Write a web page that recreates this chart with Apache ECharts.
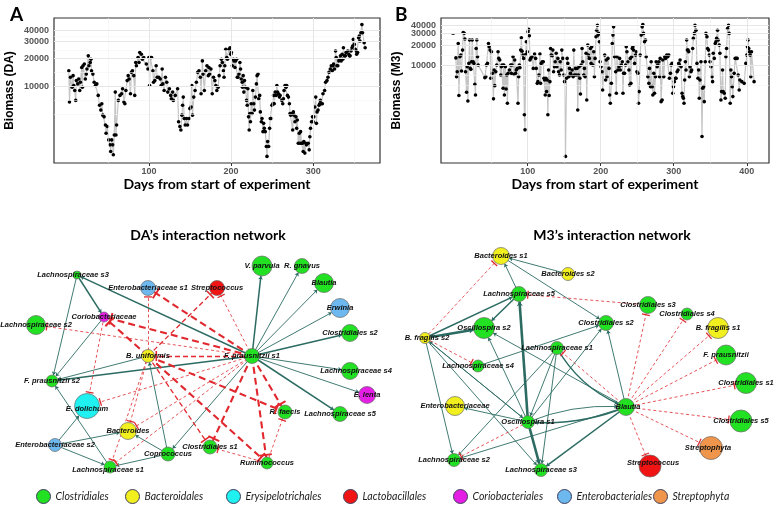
<!DOCTYPE html>
<html><head><meta charset="utf-8">
<script src="https://cdn.jsdelivr.net/npm/echarts@6/dist/echarts.min.js"></script>
<style>html,body{margin:0;padding:0;background:#fff}#c{width:778px;height:513px}</style>
</head><body><div id="c"></div>
<script>
// ---------------- DATA ----------------
// Panel A: [day, biomass] for DA
const daSamples = [[2.4,14650],[3.2,6780],[4.4,12470],[6.4,9770],[7.6,12990],[8.4,10180],[9.6,9000],[10.8,7050],[11.6,11500],[13.3,10600],[14.5,11980],[15.7,9000],[16.5,11040],[18.1,15900],[18.9,9770],[19.7,16580],[21.3,17300],[22.5,11980],[23.7,13500],[24.5,15280],[26.1,21170],[26.9,16580],[28.5,17980],[29.3,19500],[30.1,14650],[31.7,13500],[33.3,11040],[34.9,10180],[36.5,10600],[38.2,7975],[39.8,6250],[41.4,5550],[42.6,6500],[43.8,4900],[45.4,4700],[47,3840],[47.8,3130],[49.4,3700],[51,2660],[52.6,2354],[53.4,2000],[54.6,2660],[55.8,2354],[56.6,1844],[57.8,3006],[59,8650],[59.8,3006],[60.6,3836],[62.7,7050],[64.7,7975],[66.7,8300],[67.9,9385],[69.5,6780],[70.7,6500],[71.9,9000],[73.5,11500],[74.7,12990],[75.9,11980],[77.5,8300],[78.7,14090],[79.9,14650],[81.5,12990],[82.7,7975],[83.9,17980],[84.7,16580],[86.7,20300],[87.9,17980],[88.8,22960],[90.8,22000],[92,19500],[93.6,20300],[96.8,17300],[98.8,15280],[100,20300],[100.8,10180],[101.6,20300],[103.2,20300],[104.8,14650],[105.6,11040],[107.2,11500],[108.8,16580],[110,12470],[112,12470],[113.7,11980],[114.9,10180],[116.1,15280],[116.9,10600],[118.5,9000],[120.1,12470],[121.7,11040],[122.9,8650],[124.9,9385],[126.5,7975],[127.3,7355],[128.9,8650],[129.7,7050],[132.1,7975],[134.9,9385],[136.1,4160],[137.7,3700],[138.9,3400],[140.2,4900],[141,6250],[141.8,7650],[143,4515],[144.2,3836],[145.8,4515],[147,3836],[149,4515],[149.8,5763],[151.4,6000],[152.2,10180],[153,4900],[154.6,7650],[156.2,9000],[157.8,11040],[159.4,14090],[161,14650],[162.6,12470],[163.5,8300],[165.1,18700],[165.9,13500],[167.5,9000],[169.1,14650],[170.7,16580],[172.3,12990],[173.1,15900],[173.9,13500],[175.5,15280],[177.1,8300],[178.7,12470],[180.3,11500],
[181.5,10180],[182.7,9000],[184.3,9770],[185.5,12990],[186.7,16580],[188.3,19500],[189.5,17980],[190.7,14650],[191.5,12470],[192.4,16580],[193.6,24890],[194.8,20300],[195.6,19500],[197.6,24890],[198.8,25900],[199.6,22000],[200.4,22960],[201.6,16580],[202.8,19500],[203.6,18700],[204.8,15900],[205.6,18700],[206.8,19500],[207.6,12470],[208.4,12470],[209.6,13500],[210.8,17980],[211.6,15280],[212.4,11980],[213.6,11040],[214,9770],[214.8,12990],[215.6,8650],[216.4,11500],[217.7,9770],[218.9,7050],[219.7,6250],[220.5,9385],[221.3,4700],[222.1,3400],[222.9,5100],[223.7,4160],[224.5,6500],[225.7,5100],[226.5,9000],[227.7,6500],[228.5,5550],[229.7,7650],[230.9,10600],[231.7,12990],[232.9,13500],[233.7,7350],[234.9,7975],[235.7,5312],[236.9,4160],[237.7,4515],[238.9,3261],[239.7,4000],[240.5,3536],[241.7,3261],[243,2260],[243.8,1770],[244.6,2554],[245.8,2260],[247,3536],[247.8,4515],[249,4515],[249.8,6250],[251,6500],[251.8,7975],[252.6,6500],[253.8,8650],[255,7975],[255.8,10180],[256.6,8650],[257.8,8300],[259,7650],[259.8,7975],[261.8,7050],[263,6500],[263.8,7355],[264.6,9000],[265.8,10180],[267,9770],[267.8,10180],[268.7,7975],[269.9,7650],[271.1,6500],[271.9,5100],[272.7,4900],[273.9,5100],[275.1,3400],[275.9,5312],[276.7,4900],[277.9,4160],[279.1,4700],[279.9,3536],[280.7,4340],[281.9,2450],[283.1,3130],[283.9,2450],[284.7,3261],[285.9,2450],[287.1,2450],[287.9,2000],[288.7,2554],[289.9,1920],[291.1,2450],[291.9,2354],[294,2450],[295.2,2080],[296,2880],[296.8,3536],[298,4160],[299.2,4700],[300,4160],[300.8,4700],[302,6000],[303.2,7650],[304,4000],[304.8,5312],[306,5550],[307.2,6250],[308,6500],[308.8,7050],[310,6500],[311.2,6500],[312,8300],[314,9000],[315.2,11040],[316.9,11500],[318.1,12470],[319.3,14090],[320.9,15280],[322.1,16580],[323.3,14650],[324.1,16580],[324.9,17300],[326.1,15280],[327.3,23900],[328.1,20300],[328.9,16580],[330.1,16580],[331.3,18700],[332.1,19500],[333.3,21170],[334.1,18700],[335.3,22000],[336.1,19500],[336.9,25900],[338.1,21170],[339.3,21170],[340.1,22960],[342.2,23900],[343.4,22000],[344.2,21170],[345,21170],[346.2,23900],[347.4,25900],[348.2,27020],[349,31770],[350.2,28100],[351.4,24890],[352.2,23900],[353,22000],[354.2,22960],[355.4,33000],[356.2,34440],[357,30500],[358.2,37410],[359.4,45800],[360.2,37410],[362.2,29310],[363.4,25900]];

// Panel B: [day, biomass] for M3
const m3Samples = [[1.8,12970],[2.7,6750],[3.6,8020],[5,21400],[5.9,3500],[7.3,13500],[8.6,14290],[9.5,8200],[10.9,17000],[11.8,31400],[13.2,30500],[14.1,25000],[15,8020],[16.4,3920],[17.3,9550],[18.2,2900],[19.5,10700],[20.5,24100],[21.4,9000],[22.3,8700],[23.2,11340],[24.1,24100],[25.5,11340],[26.4,10700],[27.7,5170],[28.6,3570],[29.5,18010],[30.4,24100],[31.4,13500],[32.3,10100],[41.4,6520],[42.7,6750],[43.6,10100],[45,10700],[46.4,21400],[47.3,19100],[48.6,17000],[49.5,6370],[50.5,16050],[51.8,7570],[53.2,3120],[54.1,8500],[55,4940],[56.4,8020],[57.7,10100],[59.5,16050],[60.5,12740],[61.8,12040],[63.2,7140],[64.1,9550],[65,10100],[66.4,4500],[67.3,10100],[68.2,3570],[69.5,9550],[70.5,4400],[71.4,7140],[72.3,2670],[73.2,7570],[75,8500],[76.8,10100],[77.7,7570],[78.6,10100],[80,13500],[81.4,7300],[82.3,12040],[83.6,7570],[84.5,8500],[85.9,9000],[86.8,2670],[87.7,6750],[88.6,10100],[89.5,9200],[90.5,17000],[91.4,26100],[92.3,16400],[93.6,14290],[94.5,12740],[95.5,1790],[96.4,1060],[97.3,14600],[98.2,22700],[99.5,16050],[100.5,32140],[101.4,35200],[102.3,28000],[103.2,12040],[104.1,12740],[105.9,13500],[107.7,9000],[109.5,14800],[110.9,12740],[111.8,9000],[113.2,5350],[114.1,5670],[115.5,7140],[116.8,14800],[117.7,5350],[118.6,10700],[120,11340],[121.4,11340],[122.3,6370],[123.2,6000],[124.1,3570],[125,6370],[125.9,4010],[126.8,6000],[127.7,1790],[128.6,8500],[129.5,3500],[130.5,5670],[131.4,18010],[132.3,14290],[133.6,14000],[134.5,17000],[135.5,8020],[136.8,9550],[137.7,11340],[139.1,15200],[140,9550],[141.4,12740],[142.3,8020],[143.6,7140],[144.5,11340],[145.9,8500],[146.8,17000],[148.2,12740],[149.5,7140],[150.5,5670],[151.8,421],[153.2,6370],[154.1,12740],[155,10700],[156.4,6750],[157.3,9000],[158.6,7570],[159.5,7140],[160.9,8500],[162.3,6750],[163.2,17000],[164.1,7140],[165.5,9000],[166.4,7140],[167.7,9000],[168.6,2120],[169.5,7140],[170.5,9550],[171.4,6370],[172.3,3700],[173.2,10100],[174.5,18010],[175.5,11340],[176.8,7140],[177.7,9000],[178.6,6750],[180,15200],[180.9,3000],[182.3,20220],[183.2,14290],[184.5,12740],[185.9,18010],[186.8,10700],[187.7,19100],[189.1,10100],[190.5,16050],[191.4,6750],[192.3,12740],[193.6,27000],[194.5,34000],[195.5,40450],[196.4,28650],[197.3,30400],[198.2,22700],[199.1,11340],[200.5,9550],[201.8,8020],[202.7,4250],
[205.5,14290],[206.8,6000],[207.7,12040],[208.7,6750],[210,12740],[211.4,9000],[212.3,3570],[213.2,2670],[214.6,5350],[215.9,21400],[216.8,28650],[217.7,38200],[219.1,13500],[220.5,8020],[221.4,3780],[222.3,13500],[223.7,8500],[225,9550],[225.9,12740],[226.8,8500],[228.2,10100],[229.6,11340],[230.5,3780],[231.4,7570],[232.7,7570],[234.1,10100],[235,19100],[235.9,16050],[237.3,11340],[238.7,8500],[239.6,5050],[240.5,12740],[241.4,5350],[242.3,13500],[243.2,18010],[244.1,19100],[245,17000],[246.4,10700],[247.7,14290],[248.7,16050],[249.6,8020],[250.9,7570],[251.8,2670],[252.7,4010],[254.1,14290],[255.5,28650],[256.8,38200],[257.7,41300],[258.7,30400],[260,22700],[261.4,24100],[262.3,13500],[264.6,6750],[265.9,5350],[266.8,9000],[268.2,4770],[269.1,11340],[270.5,4770],[271.4,3570],[272.7,7570],[273.7,3780],[275,6750],[275.9,11340],[277.3,9550],[278.2,10100],[279.6,11340],[280.5,6750],[281.4,12740],[282.7,2830],[284.1,3000],[285,12040],[286.4,6750],[287.7,13500],[288.7,12740],[289.6,13500],[290.5,14290],[291.8,13500],[293.2,14290],[294.1,6370],[295.5,7570],[296.4,10100],[297.7,10700],[298.7,3780],[299.6,4770],[300.9,5670],[302.3,6370],[303.2,6370],[304.6,8020],[305.9,8500],[306.8,10700],[307.7,10100],[308.7,12040],[310,9550],[311.4,3780],[312.3,3370],[313.2,3180],[314.1,2670],[315,6000],[315.9,11340],[316.8,8500],[317.7,24100],[318.7,17000],[319.6,17000],[320.5,16050],[321.4,6750],[322.3,9550],[323.7,8020],[324.6,8500],[325.9,18010],[326.8,25540],[328.2,30400],[329.1,40450],[330.5,34000],[331.8,10700],[333.2,6370],[334.1,8500],[335,3180],[335.9,6000],[337.3,11340],[338.7,840],[339.6,4500],[340.9,4770],[341.8,2830],[343.2,11340],[344.1,30400],[345.5,27000],[346.4,18010],[347.7,17000],[348.7,14290],[349.6,11340],[351,9550],[352.3,6750],[353.2,5670],[354.1,15200],[355.5,12740],[356.8,21400],[357.7,22700],[358.7,25540],[360,34000],[360.9,24100],[362.3,20220],[363.2,15200],[364.6,3000],[365.5,4010],[366.8,8500],[367.7,4010],[369.1,3780],[370.5,3180],[371.4,13500],[372.3,18010],[373.7,36050],[375,40450],[375.9,30400],[377.3,2670],[378.2,8500],[379.1,6750],[380,4770],[380.9,3370],[382.7,7570],[384.1,12740],[385.5,12740],[386.8,12740],[388.2,7140],[389.6,4250],[390.5,6000],[393.2,5670],[396.4,5350],[398.7,10700],[400,14290],[400.9,19100],[401.8,24100],[402.7,18010],[403.7,16050],[404.6,14290],[405.5,6750],[406.4,16050],[410,5670]];

// Tick labels
const xTicksA = [100, 200, 300];
const xTicksB = [100, 200, 300, 400];
const xMinorA = [50, 150, 250, 350];
const xMinorB = [50, 150, 250, 350];
const yTicks = [10000, 20000, 30000, 40000];
const yMinor = [5000, 7071, 14142, 24495, 34641];

// Taxonomic orders (legend / node categories)
const orders = ['Clostridiales', 'Bacteroidales', 'Erysipelotrichales', 'Lactobacillales', 'Coriobacteriales', 'Enterobacteriales', 'Streptophyta'];

// DA network nodes
const daNodeNames = ['Lachnospiraceae s3','Enterobacteriaceae s1','Streptococcus','V. parvula','R. gnavus','Blautia','Erwinia','Clostridiales s2','Lachnospiraceae s4','E. lenta','Lachnospiraceae s5','R. faecis','Ruminococcus','Clostridiales s1','Coprococcus','Bacteroides','Enterobacteriaceae s2','Lachnospiraceae s1','E. dolichum','F. prausnitzii s2','Lachnospiraceae s2','Coriobacteriaceae','B. uniformis','F. prausnitzii s1'];
const daNodeOrders = ['Clostridiales','Enterobacteriales','Lactobacillales','Clostridiales','Clostridiales','Clostridiales','Enterobacteriales','Clostridiales','Clostridiales','Coriobacteriales','Clostridiales','Clostridiales','Clostridiales','Clostridiales','Clostridiales','Bacteroidales','Enterobacteriales','Clostridiales','Erysipelotrichales','Clostridiales','Clostridiales','Coriobacteriales','Bacteroidales','Clostridiales'];
// [source, target, sign (+1 promotes / -1 inhibits), strength 1..3]
const daEdges = [
  ['F. prausnitzii s1','Lachnospiraceae s3',1,2],['F. prausnitzii s1','V. parvula',1,2],['F. prausnitzii s1','R. gnavus',1,1],
  ['F. prausnitzii s1','Blautia',1,1],['F. prausnitzii s1','Erwinia',1,1],['F. prausnitzii s1','Clostridiales s2',1,2],
  ['F. prausnitzii s1','Lachnospiraceae s4',1,1],['F. prausnitzii s1','E. lenta',1,1],['F. prausnitzii s1','Lachnospiraceae s5',1,2],
  ['F. prausnitzii s1','F. prausnitzii s2',1,2],['F. prausnitzii s1','Coprococcus',1,1],['B. uniformis','F. prausnitzii s2',1,1],
  ['Lachnospiraceae s3','Coriobacteriaceae',1,2],['Lachnospiraceae s3','F. prausnitzii s2',1,1],['Coriobacteriaceae','F. prausnitzii s2',1,1],
  ['Enterobacteriaceae s2','E. dolichum',1,1],['Enterobacteriaceae s2','Bacteroides',1,1],['Enterobacteriaceae s2','Lachnospiraceae s1',1,1],
  ['Lachnospiraceae s1','F. prausnitzii s2',1,1],['Coprococcus','Bacteroides',1,1],['Coprococcus','B. uniformis',1,1],['Coprococcus','Lachnospiraceae s1',1,1],
  ['F. prausnitzii s1','Enterobacteriaceae s1',-1,3],['F. prausnitzii s1','Coriobacteriaceae',-1,3],['F. prausnitzii s1','R. faecis',-1,3],
  ['F. prausnitzii s1','Ruminococcus',-1,3],['F. prausnitzii s1','Clostridiales s1',-1,3],['B. uniformis','Coriobacteriaceae',-1,3],
  ['B. uniformis','R. faecis',-1,3],['B. uniformis','Ruminococcus',-1,3],['B. uniformis','Clostridiales s1',-1,2],
  ['F. prausnitzii s1','B. uniformis',-1,2],['B. uniformis','Streptococcus',-1,2],['F. prausnitzii s1','Streptococcus',-1,1],
  ['F. prausnitzii s1','Lachnospiraceae s2',-1,1],['F. prausnitzii s1','E. dolichum',-1,1],['F. prausnitzii s1','Bacteroides',-1,1],
  ['F. prausnitzii s1','Lachnospiraceae s1',-1,1],['B. uniformis','Enterobacteriaceae s1',-1,1],['B. uniformis','Bacteroides',-1,1],
  ['Coriobacteriaceae','E. dolichum',-1,1],['Ruminococcus','R. faecis',-1,1],['Ruminococcus','Clostridiales s1',-1,1],['B. uniformis','Lachnospiraceae s1',-1,1]
];

// M3 network nodes
const m3NodeNames = ['Bacteroides s1','Bacteroides s2','Lachnospiraceae s5','Clostridiales s3','Clostridiales s4','B. fragilis s1','Clostridiales s2','Oscillospira s2','B. fragilis s2','Lachnospiraceae s1','Lachnospiraceae s4','F. prausnitzii','Clostridiales s1','Enterobacteriaceae','Blautia','Clostridiales s5','Oscillospira s1','Streptophyta','Lachnospiraceae s2','Lachnospiraceae s3','Streptococcus'];
const m3NodeOrders = ['Bacteroidales','Bacteroidales','Clostridiales','Clostridiales','Clostridiales','Bacteroidales','Clostridiales','Clostridiales','Bacteroidales','Clostridiales','Clostridiales','Clostridiales','Clostridiales','Bacteroidales','Clostridiales','Clostridiales','Clostridiales','Streptophyta','Clostridiales','Clostridiales','Lactobacillales'];
const m3Edges = [
  ['Bacteroides s2','Bacteroides s1',1,1],['Bacteroides s1','Clostridiales s2',1,1],['Lachnospiraceae s5','Bacteroides s1',1,1],
  ['Lachnospiraceae s5','Oscillospira s2',1,2],['B. fragilis s2','Lachnospiraceae s5',1,2],['B. fragilis s2','Oscillospira s2',1,3],
  ['Oscillospira s1','Lachnospiraceae s5',1,3],['Oscillospira s1','Lachnospiraceae s3',1,3],['Oscillospira s1','Oscillospira s2',1,1],
  ['Blautia','Oscillospira s2',1,1],['Lachnospiraceae s4','Clostridiales s2',1,1],['Lachnospiraceae s1','Oscillospira s1',1,1],
  ['Lachnospiraceae s1','Lachnospiraceae s3',1,1],['Lachnospiraceae s1','Lachnospiraceae s2',1,1],['Lachnospiraceae s1','Blautia',1,2],
  ['Oscillospira s1','Clostridiales s2',1,1],['Blautia','Clostridiales s2',1,1],['Blautia','Oscillospira s1',1,2],
  ['Oscillospira s1','Blautia',1,1],['Blautia','Lachnospiraceae s3',1,2],['Blautia','Lachnospiraceae s2',1,1],
  ['Oscillospira s1','Enterobacteriaceae',1,1],['B. fragilis s2','Lachnospiraceae s2',1,1],['B. fragilis s2','Oscillospira s1',1,1],
  ['B. fragilis s2','Lachnospiraceae s3',1,1],['Oscillospira s1','B. fragilis s2',1,1],
  ['Blautia','Clostridiales s3',-1,1],['Blautia','Clostridiales s4',-1,1],['Blautia','B. fragilis s1',-1,1],['Blautia','F. prausnitzii',-1,1],
  ['Blautia','Clostridiales s1',-1,1],['Blautia','Clostridiales s5',-1,1],['Blautia','Streptophyta',-1,1],['Blautia','Streptococcus',-1,1],
  ['Blautia','Lachnospiraceae s1',-1,1],['Clostridiales s3','Lachnospiraceae s5',-1,1],['B. fragilis s2','Bacteroides s1',-1,1],
  ['B. fragilis s2','Lachnospiraceae s4',-1,1],['Oscillospira s1','Lachnospiraceae s2',-1,1]
];

// ---------------- LAYOUT / STYLE (not data) ----------------
const daLayout = [[77,35],[148,48],[217,48],[262,26],[302,26],[324,43],[340,68],[350,93],[350,131],[367,155],[340,174],[285,172],[267,223],[210,207],[168,214],[128,191],[55,205],[110,227],[87,166],[52,141],[36,85],[104,77],[148,116],[252,116]];
const daSizes = [8,15,15,20,15,19,19,17,17,17,15,14,12,14,14,17,13,12,25,12,19,10,13,15];
const daLabelOffset = {'Lachnospiraceae s4':[6,0],'Lachnospiraceae s1':[-2,3],'E. dolichum':[0,3],'Lachnospiraceae s3':[-4,0]};
const m3Layout = [[113,16],[180,34],[131,54],[260,65],[299,74],[330,88],[218,83],[96,88],[37,98],[169,108],[90,126],[338,115],[358,143],[67,166],[238,167],[353,181],[140,182],[323,208],[66,220],[153,230],[262,226]];
const m3Sizes = [17,13,15,17,12,21,15,21,11,13,12,20,21,19,17,22,13,23,13,13,22];
const m3LabelOffset = {'Blautia':[2,0],'Streptophyta':[-3,0],'Streptococcus':[3,-3],'B. fragilis s2':[2,0]};
const m3Curve = {'Blautia>Oscillospira s1':0.12,'Oscillospira s1>Blautia':0.12,'Lachnospiraceae s1>Blautia':-0.18};
const orderColors = ['#22e022','#f2ef1f','#1ff0f0','#f01414','#e51ee5','#6db8ef','#f0964c'];
const legendCenters = [43, 132, 233, 350, 460, 564, 660];

const TIP = 'path://M0,0L0,0M10,0L10,0M5,5L8.4,10L5,8.9L1.6,10Z';
const TBAR = 'path://M0,0L0,0M10,10L10,10M0,6L10,6L10,7.6L0,7.6Z';
const POS = '#2b6b62', NEG = '#e0282e';

function buildNodes(names, ords, layout, sizes, offs) {
  return names.map((n, i) => {
    const o = {name: n, value: layout[i], symbolSize: sizes[i], category: orders.indexOf(ords[i])};
    if (offs[n]) o.label = {offset: offs[n]};
    return o;
  });
}
function buildLinks(edges, curves) {
  return edges.map(e => {
    const [s, t, sign, k] = e;
    const c = (curves && curves[s + '>' + t]) || 0;
    if (sign > 0) {
      return {source: s, target: t, symbol: ['none', TIP], symbolSize: [1, k === 3 ? 9 : 7],
        lineStyle: {color: POS, width: [0, 0.9, 1.5, 2.6][k], type: 'solid', curveness: c, opacity: 1}};
    }
    return {source: s, target: t, symbol: ['none', TBAR], symbolSize: [1, [0, 8, 10, 12][k]],
      lineStyle: {color: NEG, width: [0, 0.8, 1.3, 2.1][k], type: [null, [3, 2.5], [5, 3], [7, 4]][k], curveness: c, opacity: 1}};
  });
}

const log = v => Math.log10(v);
function expand(arr, idx, f, tf) {
  const v = arr.map(p => tf ? tf(p[idx]) : p[idx]);
  const mn = Math.min(...v), mx = Math.max(...v), s = mx - mn;
  return [mn - s * f, mx + s * f];
}
const axFont = 'Liberation Sans';
const tickLabelStyle = {fontSize: 9, color: '#555', fontWeight: 'bold', fontFamily: axFont};
function gridLines(xi, xMaj, xMin, yMaj, yMin) {
  const d = [];
  xMin.forEach(v => d.push({xAxis: v, lineStyle: {color: '#f3f3f3', width: 0.6, type: 'solid'}}));
  yMin.forEach(v => d.push({yAxis: log(v), lineStyle: {color: '#f3f3f3', width: 0.6, type: 'solid'}}));
  xMaj.forEach(v => d.push({xAxis: v, lineStyle: {color: '#e6e6e6', width: 1, type: 'solid'}}));
  // major y grid lines also carry the y tick labels (log scale values)
  yMaj.forEach(v => d.push({yAxis: log(v), lineStyle: {color: '#e6e6e6', width: 1, type: 'solid'},
    label: Object.assign({show: true, position: 'start', distance: 5, formatter: String(v)}, tickLabelStyle)}));
  return {type: 'line', data: [], xAxisIndex: xi, yAxisIndex: xi, z: 1, silent: true,
    markLine: {silent: true, symbol: 'none', animation: false, label: {show: false}, data: d}};
}
function tsXAxis(gi, samples, ticks) {
  const [mn, mx] = expand(samples, 0, 0.05);
  return {type: 'value', gridIndex: gi, min: mn, max: mx,
    name: 'Days from start of experiment', nameLocation: 'middle', nameGap: 14,
    nameTextStyle: {fontFamily: 'Lato', fontWeight: 'bold', fontSize: 14, color: '#000'},
    axisLine: {show: false}, splitLine: {show: false},
    axisTick: {show: true, customValues: ticks, length: 3, lineStyle: {color: '#333'}},
    axisLabel: Object.assign({customValues: ticks, hideOverlap: false, showMinLabel: true, showMaxLabel: true, margin: 4}, tickLabelStyle)};
}
function tsYAxis(gi, samples, name) {
  const [mn, mx] = expand(samples, 1, 0.05, log);
  const t = yTicks.map(log);
  return {type: 'value', gridIndex: gi, min: mn, max: mx,
    name: name, nameLocation: 'middle', nameGap: 38, nameRotate: 90,
    nameTextStyle: {fontFamily: axFont, fontWeight: 'bold', fontSize: 12, color: '#000'},
    axisLine: {show: false}, splitLine: {show: false},
    axisTick: {show: true, customValues: t, length: 3, lineStyle: {color: '#333'}},
    axisLabel: {show: false}};
}
function tsSeries(gi, samples) {
  return {type: 'line', xAxisIndex: gi, yAxisIndex: gi, z: 3,
    data: samples.map(p => [p[0], log(p[1])]),
    symbol: 'circle', symbolSize: 3.6, showSymbol: true, showAllSymbol: true,
    itemStyle: {color: '#000', borderWidth: 0}, lineStyle: {color: '#c4c4c4', width: 1.2},
    emphasis: {disabled: true}, animation: false};
}
function netAxes(gi) {
  return [{type: 'value', gridIndex: gi, min: 0, max: 390, show: false},
          {type: 'value', gridIndex: gi, min: 0, max: 240, inverse: true, show: false}];
}
const cats = orders.map((o, i) => ({name: o, itemStyle: {color: orderColors[i]}}));
function netSeries(gi, nodes, links) {
  return {type: 'graph', coordinateSystem: 'cartesian2d', xAxisIndex: gi, yAxisIndex: gi,
    layout: 'none', roam: false, categories: cats, data: nodes, links: links, z: 4,
    itemStyle: {borderColor: '#6a6a6a', borderWidth: 0.7, opacity: 1},
    label: {show: true, position: 'inside', fontFamily: axFont, fontStyle: 'italic', fontWeight: 'bold', fontSize: 7.5, color: '#111'},
    lineStyle: {opacity: 1}, emphasis: {disabled: true}, animation: false};
}
const legends = orders.map((o, i) => ({data: [o], top: 489, left: legendCenters[i] - 7, padding: 0,
  icon: 'circle', itemWidth: 14, itemHeight: 14, selectedMode: false,
  itemStyle: {borderColor: '#3f3f5f', borderWidth: 1},
  textStyle: {fontFamily: 'Lato', fontStyle: 'italic', fontSize: 10.5, color: '#222'}}));

const chart = echarts.init(document.getElementById('c'), null, {renderer: 'canvas'});
const [daX, daY] = [tsXAxis(0, daSamples, xTicksA), tsYAxis(0, daSamples, 'Biomass (DA)')];
const [m3X, m3Y] = [tsXAxis(1, m3Samples, xTicksB), tsYAxis(1, m3Samples, 'Biomass (M3)')];
const [nx2, ny2] = netAxes(2);
const [nx3, ny3] = netAxes(3);
chart.setOption({
  animation: false,
  backgroundColor: '#fff',
  title: [
    {text: 'A', left: 5, top: 0, textStyle: {fontFamily: 'Lato', fontWeight: 'bold', fontSize: 19, color: '#000'}},
    {text: 'B', left: 390, top: 0, textStyle: {fontFamily: 'Lato', fontWeight: 'bold', fontSize: 19, color: '#000'}},
    {text: 'DA\u2019s interaction network', left: 203, top: 223, textAlign: 'center', textStyle: {fontFamily: 'Lato', fontWeight: 'bold', fontSize: 14, color: '#000'}},
    {text: 'M3\u2019s interaction network', left: 607, top: 223, textAlign: 'center', textStyle: {fontFamily: 'Lato', fontWeight: 'bold', fontSize: 14, color: '#000'}}
  ],
  grid: [
    {left: 54, top: 18, width: 326, height: 145, show: true, borderColor: '#333', borderWidth: 1.2, backgroundColor: '#fff'},
    {left: 441, top: 18, width: 328, height: 145, show: true, borderColor: '#333', borderWidth: 1.2, backgroundColor: '#fff'},
    {left: 0, top: 240, width: 390, height: 240},
    {left: 388, top: 240, width: 390, height: 240}
  ],
  xAxis: [daX, m3X, nx2, nx3],
  yAxis: [daY, m3Y, ny2, ny3],
  legend: legends,
  series: [
    gridLines(0, xTicksA, xMinorA, yTicks, yMinor),
    gridLines(1, xTicksB, xMinorB, yTicks, yMinor),
    tsSeries(0, daSamples),
    tsSeries(1, m3Samples),
    netSeries(2, buildNodes(daNodeNames, daNodeOrders, daLayout, daSizes, daLabelOffset), buildLinks(daEdges)),
    netSeries(3, buildNodes(m3NodeNames, m3NodeOrders, m3Layout, m3Sizes, m3LabelOffset), buildLinks(m3Edges, m3Curve))
  ]
});
</script></body></html>
